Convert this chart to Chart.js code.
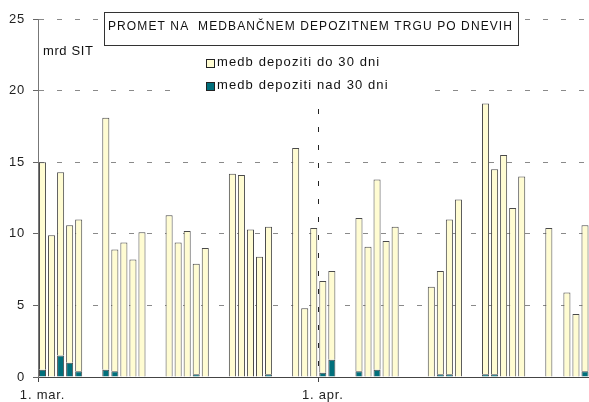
<!DOCTYPE html>
<html>
<head>
<meta charset="utf-8">
<script src="https://cdn.jsdelivr.net/npm/chart.js@4/dist/chart.umd.min.js"></script>
<style>
  html, body { margin: 0; padding: 0; background: #fff; overflow: hidden; }
  #wrap { width: 589px; height: 402px; position: relative; overflow: hidden; }
</style>
</head>
<body>
<div id="wrap"><canvas id="promet" width="591" height="402"></canvas></div>
<script>
/**
 *  Data: daily turnover, 1 March - 30 April (null = no trading day)
 */
var months = ['mar.', 'apr.'];
var monthDays = [31, 30];
var tickLabels = ['1. mar.', '1. apr.'];
var seriesNames = ['medb depoziti do 30 dni', 'medb depoziti nad 30 dni'];
var title = 'PROMET NA  MEDBANČNEM DEPOZITNEM TRGU PO DNEVIH';
var unit = 'mrd SIT';

var do30 = [
    14.5, 9.9, 12.8, 9.6, 10.6, null, null,
    17.6, 8.5, 9.4, 8.2, 10.1, null, null,
    11.3, 9.4, 10.2, 7.7, 9.0, null, null,
    14.2, 14.1, 10.3, 8.4, 10.3, null, null,
    16.0, 4.8, 10.4,
    6.4, 6.2, null, null,
    10.7, 9.1, 13.3, 9.5, 10.5, null, null,
    null, 6.3, 7.2, 10.8, 12.4, null, null,
    18.9, 14.3, 15.5, 11.8, 14.0, null, null,
    10.4, null, 5.9, 4.4, 10.2
];
var nad30 = [
    0.5, 0, 1.5, 1.0, 0.4, null, null,
    0.5, 0.4, 0, 0, 0, null, null,
    0, 0, 0, 0.2, 0, null, null,
    0, 0, 0, 0, 0.2, null, null,
    0, 0, 0,
    0.3, 1.2, null, null,
    0.4, 0, 0.5, 0, 0, null, null,
    null, 0, 0.2, 0.2, 0, null, null,
    0.2, 0.2, 0, 0, 0, null, null,
    0, null, 0, 0, 0.4
];

var days = [];
for (var m = 0; m < months.length; m++) {
    for (var d = 1; d <= monthDays[m]; d++) days.push(d + '. ' + months[m]);
}

var FONT = '"Liberation Sans", Arial, sans-serif';
var yellow = '#FFFCD2';
var teal = '#006F7B';
var edge = '#4A4A4A';

/**
 *  Title box, unit and legend drawn over the grid
 */
var decorations = {
    id: 'decorations',
    beforeDraw: function(chart) {
        chart.ctx.letterSpacing = '0.8px';
    },
    beforeDatasetsDraw: function(chart) {
        var ctx = chart.ctx;
        ctx.save();
        // legend background hides grid lines
        ctx.fillStyle = '#fff';
        ctx.fillRect(181, 48, 246, 51);
        // title box
        ctx.fillRect(104, 12, 415, 33);
        ctx.strokeStyle = '#333';
        ctx.lineWidth = 1;
        ctx.strokeRect(104.5, 12.5, 414, 33);
        ctx.fillStyle = '#111';
        ctx.font = '12px ' + FONT;
        ctx.letterSpacing = '1.1px';
        ctx.textBaseline = 'middle';
        ctx.fillText(title, 108, 27);
        // unit
        ctx.font = '13px ' + FONT;
        ctx.letterSpacing = '0.6px';
        ctx.fillText(unit, 43, 51);
        // legend
        var colors = [yellow, teal];
        ctx.letterSpacing = '1.1px';
        for (var i = 0; i < seriesNames.length; i++) {
            var y = 62 + i * 23;
            ctx.fillStyle = colors[i];
            ctx.fillRect(206, y - 2, 8, 8);
            ctx.strokeStyle = '#222';
            ctx.strokeRect(206.5, y - 2.5, 8, 8);
            ctx.fillStyle = '#111';
            ctx.fillText(seriesNames[i], 217, y);
        }
        ctx.restore();
    }
};

function barBorder(c) {
    var v = c.raw;
    return v ? 1 : 0;
}

var chart = new Chart(document.getElementById('promet').getContext('2d'), {
    type: 'bar',
    data: {
        labels: days,
        datasets: [{
            label: seriesNames[1],
            data: nad30,
            backgroundColor: teal,
            borderColor: edge,
            borderWidth: barBorder,
            borderSkipped: 'start'
        }, {
            label: seriesNames[0],
            data: do30,
            backgroundColor: yellow,
            borderColor: edge,
            borderWidth: barBorder,
            borderSkipped: 'start'
        }]
    },
    options: {
        responsive: false,
        animation: false,
        events: [],
        layout: { padding: { top: 19, right: 0, left: 0, bottom: 0 } },
        plugins: {
            legend: { display: false },
            title: { display: false },
            tooltip: { enabled: false }
        },
        datasets: {
            bar: { categoryPercentage: 1.0, barPercentage: 0.78 }
        },
        scales: {
            x: {
                stacked: true,
                offset: true,
                afterFit: function(scale) { scale.height = 25; },
                grid: {
                    offset: true,
                    drawOnChartArea: true,
                    color: function(c) { return c.index === 31 ? '#222' : 'rgba(0,0,0,0)'; },
                    tickColor: function(c) { return (c.index === 0 || c.index === 31) ? '#444' : 'rgba(0,0,0,0)'; },
                    tickLength: 5,
                    lineWidth: 1
                },
                border: { display: true, color: '#444', width: 1, dash: [5, 13] },
                ticks: {
                    autoSkip: false,
                    maxRotation: 0,
                    minRotation: 0,
                    padding: 6,
                    color: '#222',
                    font: { family: FONT, size: 13 },
                    callback: function(val, idx) {
                        var lab = days[idx];
                        return tickLabels.indexOf(lab) >= 0 ? lab : '';
                    }
                }
            },
            y: {
                stacked: true,
                min: 0,
                max: 25,
                afterFit: function(scale) { scale.width = 38; },
                grid: {
                    color: function(c) { return c.tick && c.tick.value === 0 ? 'rgba(0,0,0,0)' : '#8a8a8a'; },
                    tickColor: '#666',
                    tickLength: 5,
                    lineWidth: 1
                },
                border: { display: true, color: '#777', width: 1, dash: [5, 13] },
                ticks: {
                    stepSize: 5,
                    padding: 8,
                    color: '#222',
                    font: { family: FONT, size: 13 }
                }
            }
        }
    },
    plugins: [decorations]
});
</script>
</body>
</html>
